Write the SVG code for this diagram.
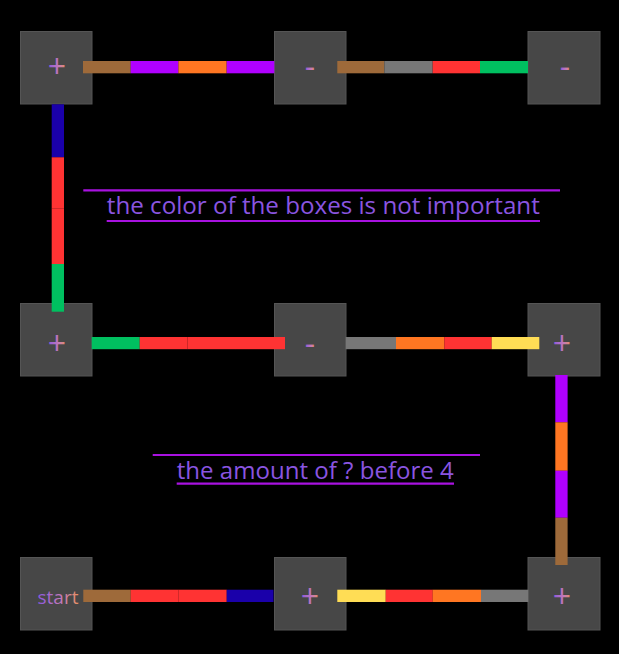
<svg xmlns="http://www.w3.org/2000/svg" width="619" height="654" viewBox="0 0 619 654">
<defs>
<linearGradient id="lg" x1="0" y1="0" x2="1" y2="0">
<stop offset="0" stop-color="#8a58e0"/>
<stop offset="0.6" stop-color="#c47ab8"/>
<stop offset="1" stop-color="#e8905e"/>
</linearGradient>
<style>
.box{fill:#474747;stroke:#555555;stroke-width:1}
.lbl{font-family:"Open Sans","Noto Sans","DejaVu Sans",sans-serif;font-size:32px;fill:url(#lg);text-anchor:middle}
.st{font-size:19px}
.br{fill:#9e6a3a}.pu{fill:#b000ff}.or{fill:#ff7622}.gy{fill:#777777}.rd{fill:#ff3333}.gr{fill:#00c060}.bl{fill:#1a00aa}.ye{fill:#ffdd55}
.note{font-family:"Open Sans","Noto Sans","DejaVu Sans",sans-serif;font-size:24px;fill:#8a55e0;text-anchor:middle}
.ul{stroke:#a812e0;stroke-width:2.2}
</style>
</defs>
<rect width="619" height="654" fill="#000"/>
<g id="nodes">
<g id="n1"><rect class="box" x="20.5" y="31.5" width="71.5" height="72.5"/><text class="lbl" x="57" y="78">+</text></g>
<g id="n2"><rect class="box" x="274.5" y="31.5" width="71.5" height="72.5"/><text class="lbl" x="310" y="78">-</text></g>
<g id="n3"><rect class="box" x="528" y="31.5" width="72" height="72.5"/><text class="lbl" x="565" y="78">-</text></g>
<g id="n4"><rect class="box" x="20.5" y="303.5" width="71.5" height="72.5"/><text class="lbl" x="57" y="355">+</text></g>
<g id="n5"><rect class="box" x="274.5" y="303.5" width="71.5" height="72.5"/><text class="lbl" x="310" y="355">-</text></g>
<g id="n6"><rect class="box" x="528" y="303.5" width="72" height="72.5"/><text class="lbl" x="562" y="355">+</text></g>
<g id="n7"><rect class="box" x="20.5" y="557.5" width="71.5" height="72.5"/><text class="lbl st" x="58" y="604">start</text></g>
<g id="n8"><rect class="box" x="274.5" y="557.5" width="71.5" height="72.5"/><text class="lbl" x="310" y="608">+</text></g>
<g id="n9"><rect class="box" x="528" y="557.5" width="72" height="72.5"/><text class="lbl" x="562" y="608">+</text></g>
</g>
<g id="connectors">
<g id="c1">
<rect class="br" x="83" y="61" width="47.8" height="12.3"/>
<rect class="pu" x="130.7" y="61" width="47.8" height="12.3"/>
<rect class="or" x="178.4" y="61" width="48.3" height="12.3"/>
<rect class="pu" x="226.7" y="61" width="47.6" height="12.3"/>
</g>
<g id="c2">
<rect class="br" x="337.3" y="61" width="47.1" height="12.3"/>
<rect class="gy" x="384.3" y="61" width="48.4" height="12.3"/>
<rect class="rd" x="432.7" y="61" width="47.4" height="12.3"/>
<rect class="gr" x="480" y="61" width="48" height="12.3"/>
</g>
<g id="c3">
<rect class="bl" x="51.7" y="104.3" width="12.3" height="53.1"/>
<rect class="rd" x="51.7" y="157.3" width="12.3" height="51.1"/>
<rect class="rd" x="51.7" y="208.3" width="12.3" height="55.8"/>
<rect class="gr" x="51.7" y="264" width="12.3" height="47.7"/>
</g>
<g id="c4">
<rect class="gr" x="91.7" y="337" width="48.1" height="12.2"/>
<rect class="rd" x="139.7" y="337" width="47.8" height="12.2"/>
<rect class="rd" x="187.4" y="337" width="47.7" height="12.2"/>
<rect class="rd" x="235" y="337" width="50" height="12.2"/>
</g>
<g id="c5">
<rect class="gy" x="345.7" y="337" width="50.4" height="12.2"/>
<rect class="or" x="396" y="337" width="48.4" height="12.2"/>
<rect class="rd" x="444.3" y="337" width="47.5" height="12.2"/>
<rect class="ye" x="491.7" y="337" width="47.6" height="12.2"/>
</g>
<g id="c6">
<rect class="pu" x="555.3" y="375" width="12.3" height="47.4"/>
<rect class="or" x="555.3" y="422.3" width="12.3" height="48.5"/>
<rect class="pu" x="555.3" y="470.7" width="12.3" height="47.1"/>
<rect class="br" x="555.3" y="517.7" width="12.3" height="47.3"/>
</g>
<g id="c7">
<rect class="br" x="83.3" y="589.7" width="47.5" height="12.3"/>
<rect class="rd" x="130.7" y="589.7" width="47.7" height="12.3"/>
<rect class="rd" x="178.3" y="589.7" width="48.5" height="12.3"/>
<rect class="bl" x="226.7" y="589.7" width="46.8" height="12.3"/>
</g>
<g id="c8">
<rect class="ye" x="337.3" y="589.7" width="48.5" height="12.3"/>
<rect class="rd" x="385.7" y="589.7" width="47.1" height="12.3"/>
<rect class="or" x="432.7" y="589.7" width="48.4" height="12.3"/>
<rect class="gy" x="481" y="589.7" width="47.3" height="12.3"/>
</g>
</g>
<g id="note1">
<line class="ul" x1="83.3" y1="190.3" x2="560" y2="190.3"/>
<text class="note" x="323.3" y="213.5" textLength="433" lengthAdjust="spacingAndGlyphs">the color of the boxes is not important</text>
<line class="ul" x1="106.7" y1="221" x2="540" y2="221"/>
</g>
<g id="note2">
<line class="ul" x1="152.7" y1="455" x2="480" y2="455"/>
<text class="note" x="315.3" y="478.5" textLength="277" lengthAdjust="spacingAndGlyphs">the amount of ? before 4</text>
<line class="ul" x1="176.7" y1="483.7" x2="454" y2="483.7"/>
</g>
</svg>
